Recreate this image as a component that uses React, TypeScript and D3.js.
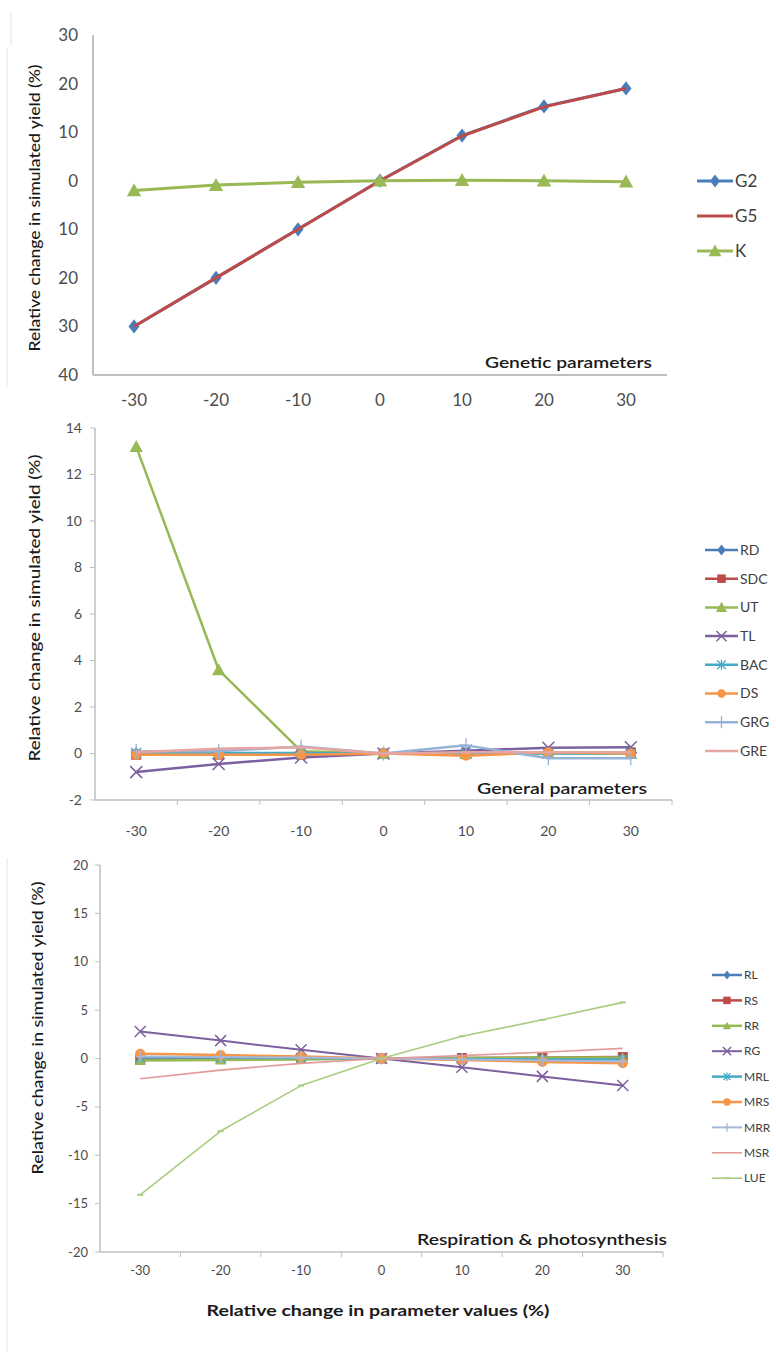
import React from "react";
import * as d3 from "d3";

// ---------- data ----------
const categories = ["-30", "-20", "-10", "0", "10", "20", "30"];

// Genetic parameters
const g2 = [-30, -20, -10, 0, 9.3, 15.3, 19.0];
const g5 = [-30, -20, -10, 0, 9.2, 15.2, 19.0];
const kVals = [-2.0, -0.9, -0.3, 0, 0.1, 0.0, -0.2];
const topTicks = [-40, -30, -20, -10, 0, 10, 20, 30];
const topTickLabels = ["40", "30", "20", "10", "0", "10", "20", "30"];

// General parameters
const rd = [0.0, 0.0, 0.0, 0, 0.05, 0.05, 0.05];
const sdc = [-0.05, -0.05, -0.05, 0, 0.0, 0.05, 0.05];
const ut = [13.2, 3.6, 0.1, 0, 0.0, 0.0, 0.0];
const tl = [-0.8, -0.45, -0.17, 0, 0.12, 0.25, 0.27];
const bac = [0.02, 0.02, 0.02, 0, 0.0, 0.0, 0.0];
const ds = [-0.05, -0.05, -0.05, 0, -0.1, 0.05, 0.0];
const grg = [0.1, 0.1, 0.3, 0, 0.35, -0.2, -0.2];
const gre = [0.05, 0.2, 0.27, 0, 0.05, 0.05, 0.05];
const midTicks = [-2, 0, 2, 4, 6, 8, 10, 12, 14];
const midTickLabels = ["-2", "0", "2", "4", "6", "8", "10", "12", "14"];

// Respiration & photosynthesis
const rl = [0.0, 0.0, 0.0, 0, 0.0, 0.0, 0.05];
const rs = [-0.1, -0.05, 0.0, 0, 0.05, 0.1, 0.15];
const rr = [-0.2, -0.15, -0.1, 0, 0.05, 0.1, 0.1];
const rg = [2.8, 1.85, 0.9, 0, -0.9, -1.85, -2.8];
const mrl = [0.1, 0.1, 0.05, 0, -0.05, -0.1, -0.1];
const mrs = [0.5, 0.35, 0.2, 0, -0.15, -0.35, -0.5];
const mrr = [0.2, 0.15, 0.1, 0, -0.1, -0.2, -0.3];
const msr = [-2.1, -1.2, -0.5, 0, 0.3, 0.65, 1.05];
const lue = [-14.1, -7.5, -2.8, 0, 2.3, 4.0, 5.8];
const botTicks = [-20, -15, -10, -5, 0, 5, 10, 15, 20];
const botTickLabels = ["-20", "-15", "-10", "-5", "0", "5", "10", "15", "20"];

// ---------- types ----------
type Marker = "diamond" | "square" | "triangle" | "x" | "star" | "circle" | "plus" | "dash" | "none";
interface Series {
  name: string;
  values: number[];
  color: string;
  marker: Marker;
  width: number;
  msize: number;
}

const FONT = "Lato, 'Open Sans', sans-serif";

function MarkerShape({ type, size, color, x, y }: { type: Marker; size: number; color: string; x: number; y: number }) {
  const s = size;
  const t = `translate(${x},${y})`;
  switch (type) {
    case "diamond":
      return <path transform={t} d={`M0,${-s * 1.3}L${s},0L0,${s * 1.3}L${-s},0Z`} fill={color} />;
    case "square":
      return <rect transform={t} x={-s} y={-s} width={2 * s} height={2 * s} fill={color} />;
    case "triangle":
      return <path transform={t} d={`M0,${-s * 1.1}L${s * 1.1},${s * 0.9}L${-s * 1.1},${s * 0.9}Z`} fill={color} />;
    case "circle":
      return <circle transform={t} r={s} fill={color} />;
    case "x":
      return (
        <g transform={t} stroke={color} strokeWidth={1.5}>
          <line x1={-s} y1={-s} x2={s} y2={s} />
          <line x1={-s} y1={s} x2={s} y2={-s} />
        </g>
      );
    case "star":
      return (
        <g transform={t} stroke={color} strokeWidth={1.3}>
          <line x1={-s} y1={-s} x2={s} y2={s} />
          <line x1={-s} y1={s} x2={s} y2={-s} />
          <line x1={0} y1={-s * 1.2} x2={0} y2={s * 1.2} />
        </g>
      );
    case "plus":
      return (
        <g transform={t} stroke={color} strokeWidth={1.3}>
          <line x1={-s} y1={0} x2={s} y2={0} />
          <line x1={0} y1={-s * 1.3} x2={0} y2={s * 1.3} />
        </g>
      );
    case "dash":
      return <line transform={t} x1={-s} y1={0} x2={s} y2={0} stroke={color} strokeWidth={2} />;
    default:
      return null;
  }
}

interface ChartProps {
  series: Series[];
  x0: number;
  x1: number;
  yTop: number;
  yBottom: number;
  domain: [number, number];
  ticks: number[];
  tickLabels: string[];
  tickFont: number;
  yLabelX: number;
  xLabelY: number;
  showTicks: boolean;
  axisWidth: number;
  yTitle: { x: number; y: number; len: number; size: number };
  legend: { x0: number; x1: number; y0: number; step: number; font: number; mscale: number };
  title: { text: string; xEnd: number; y: number; len: number; size: number };
}

function Chart(p: ChartProps) {
  const x = d3.scaleBand<string>().domain(categories).range([p.x0, p.x1]);
  const y = d3.scaleLinear().domain(p.domain).range([p.yBottom, p.yTop]);
  const cx = (c: string) => (x(c) as number) + x.bandwidth() / 2;
  const line = d3
    .line<number>()
    .x((_, i) => cx(categories[i]))
    .y((v) => y(v));
  const axisColor = "#bfbfbf";
  return (
    <g>
      {/* axes */}
      <line x1={p.x0} y1={p.yTop} x2={p.x0} y2={p.yBottom} stroke={axisColor} strokeWidth={p.axisWidth} />
      <line x1={p.x0} y1={p.yBottom} x2={p.x1} y2={p.yBottom} stroke={axisColor} strokeWidth={p.axisWidth} />
      {p.showTicks &&
        p.ticks.map((t) => (
          <line key={"yt" + t} x1={p.x0 - 5} x2={p.x0} y1={y(t)} y2={y(t)} stroke={axisColor} strokeWidth={1} />
        ))}
      {p.showTicks &&
        categories.map((c) => (
          <line
            key={"xt" + c}
            x1={(x(c) as number) + x.bandwidth()}
            x2={(x(c) as number) + x.bandwidth()}
            y1={p.yBottom}
            y2={p.yBottom + 5}
            stroke={axisColor}
            strokeWidth={1}
          />
        ))}
      {p.ticks.map((t, i) => (
        <text
          key={"yl" + t}
          x={p.yLabelX}
          y={y(t)}
          dy="0.35em"
          textAnchor="end"
          fontSize={p.tickFont}
          fill="#4d4d4d"
          fontFamily={FONT}
        >
          {p.tickLabels[i]}
        </text>
      ))}
      {categories.map((c) => (
        <text
          key={"xl" + c}
          x={cx(c)}
          y={p.xLabelY}
          dy="0.35em"
          textAnchor="middle"
          fontSize={p.tickFont}
          fill="#4d4d4d"
          fontFamily={FONT}
        >
          {c}
        </text>
      ))}
      {/* y title */}
      <text
        transform={`translate(${p.yTitle.x},${p.yTitle.y}) rotate(-90)`}
        textAnchor="middle"
        dy="0.35em"
        fontSize={p.yTitle.size}
        fontWeight={500}
        fill="#1a1a1a"
        fontFamily={FONT}
        textLength={p.yTitle.len}
        lengthAdjust="spacingAndGlyphs"
      >
        Relative change in simulated yield (%)
      </text>
      {/* panel title */}
      <text
        x={p.title.xEnd - p.title.len}
        y={p.title.y}
        fontSize={p.title.size}
        fontWeight={600}
        fill="#1a1a1a"
        fontFamily={FONT}
        textLength={p.title.len}
        lengthAdjust="spacingAndGlyphs"
      >
        {p.title.text}
      </text>
      {/* series */}
      {p.series.map((s) => (
        <g key={s.name}>
          <path d={line(s.values) || ""} fill="none" stroke={s.color} strokeWidth={s.width} strokeLinejoin="round" />
          {s.values.map((v, i) => (
            <MarkerShape key={i} type={s.marker} size={s.msize} color={s.color} x={cx(categories[i])} y={y(v)} />
          ))}
        </g>
      ))}
      {/* legend */}
      {p.series.map((s, i) => {
        const ly = p.legend.y0 + i * p.legend.step;
        return (
          <g key={"lg" + s.name}>
            <line x1={p.legend.x0} x2={p.legend.x1} y1={ly} y2={ly} stroke={s.color} strokeWidth={s.width} />
            <MarkerShape
              type={s.marker}
              size={s.msize * p.legend.mscale}
              color={s.color}
              x={(p.legend.x0 + p.legend.x1) / 2}
              y={ly}
            />
            <text
              x={p.legend.x1 + 2}
              y={ly}
              dy="0.35em"
              fontSize={p.legend.font}
              fill="#404040"
              fontFamily={FONT}
            >
              {s.name}
            </text>
          </g>
        );
      })}
    </g>
  );
}

const topSeries: Series[] = [
  { name: "G2", values: g2, color: "#4a7ebb", marker: "diamond", width: 3, msize: 5.5 },
  { name: "G5", values: g5, color: "#be4b48", marker: "none", width: 3, msize: 0 },
  { name: "K", values: kVals, color: "#98b954", marker: "triangle", width: 3, msize: 6.5 },
];

const midSeries: Series[] = [
  { name: "RD", values: rd, color: "#4a7ebb", marker: "diamond", width: 2.5, msize: 5 },
  { name: "SDC", values: sdc, color: "#be4b48", marker: "square", width: 2.5, msize: 5 },
  { name: "UT", values: ut, color: "#98b954", marker: "triangle", width: 2.5, msize: 6 },
  { name: "TL", values: tl, color: "#7d60a0", marker: "x", width: 2.5, msize: 6 },
  { name: "BAC", values: bac, color: "#46aac5", marker: "star", width: 2.5, msize: 5 },
  { name: "DS", values: ds, color: "#f79646", marker: "circle", width: 2.5, msize: 5 },
  { name: "GRG", values: grg, color: "#95b3d7", marker: "plus", width: 2.5, msize: 5.5 },
  { name: "GRE", values: gre, color: "#e6a5a3", marker: "none", width: 2.5, msize: 0 },
];

const botSeries: Series[] = [
  { name: "RL", values: rl, color: "#4a7ebb", marker: "diamond", width: 2.5, msize: 4.5 },
  { name: "RS", values: rs, color: "#be4b48", marker: "square", width: 2.5, msize: 5 },
  { name: "RR", values: rr, color: "#98b954", marker: "triangle", width: 2.5, msize: 5 },
  { name: "RG", values: rg, color: "#7d60a0", marker: "x", width: 2, msize: 5.5 },
  { name: "MRL", values: mrl, color: "#46aac5", marker: "star", width: 2.5, msize: 4.5 },
  { name: "MRS", values: mrs, color: "#f79646", marker: "circle", width: 2.5, msize: 5 },
  { name: "MRR", values: mrr, color: "#a5b8d9", marker: "plus", width: 2, msize: 4.5 },
  { name: "MSR", values: msr, color: "#e39a98", marker: "none", width: 1.6, msize: 0 },
  { name: "LUE", values: lue, color: "#a9cd7e", marker: "dash", width: 1.6, msize: 3 },
];

export default function App() {
  return (
    <svg width={776} height={1352} style={{ position: "absolute", left: 0, top: 0, background: "#fff" }}>
      <rect width={776} height={1352} fill="#fff" />
      {/* faint frame remnants */}
      <line x1={11} x2={11} y1={12} y2={45} stroke="#e4e4e4" strokeWidth={1} />
      <line x1={7} x2={7} y1={48} y2={387} stroke="#e4e4e4" strokeWidth={1} />
      <line x1={7} x2={7} y1={858} y2={1352} stroke="#e8e8e8" strokeWidth={1} />
      <Chart
        series={topSeries}
        x0={93}
        x1={667}
        yTop={35}
        yBottom={375}
        domain={[-40, 30]}
        ticks={topTicks}
        tickLabels={topTickLabels}
        tickFont={17}
        yLabelX={78}
        xLabelY={400}
        showTicks={false}
        axisWidth={2}
        yTitle={{ x: 35, y: 208, len: 287, size: 15 }}
        legend={{ x0: 697, x1: 733, y0: 181, step: 35, font: 17, mscale: 0.9 }}
        title={{ text: "Genetic parameters", xEnd: 652, y: 368, len: 167, size: 16 }}
      />
      <Chart
        series={midSeries}
        x0={95}
        x1={672}
        yTop={428}
        yBottom={800}
        domain={[-2, 14]}
        ticks={midTicks}
        tickLabels={midTickLabels}
        tickFont={14}
        yLabelX={82}
        xLabelY={831}
        showTicks={true}
        axisWidth={1.5}
        yTitle={{ x: 35, y: 608, len: 307, size: 15 }}
        legend={{ x0: 705, x1: 738, y0: 550, step: 28.7, font: 14, mscale: 0.85 }}
        title={{ text: "General parameters", xEnd: 647, y: 794, len: 170, size: 16 }}
      />
      <Chart
        series={botSeries}
        x0={100}
        x1={663}
        yTop={865}
        yBottom={1252}
        domain={[-20, 20]}
        ticks={botTicks}
        tickLabels={botTickLabels}
        tickFont={13}
        yLabelX={88}
        xLabelY={1270}
        showTicks={true}
        axisWidth={1.5}
        yTitle={{ x: 38, y: 1028, len: 293, size: 15 }}
        legend={{ x0: 712, x1: 742, y0: 975, step: 25.4, font: 12, mscale: 0.75 }}
        title={{ text: "Respiration & photosynthesis", xEnd: 667, y: 1245, len: 250, size: 16 }}
      />
      <text
        x={378}
        y={1310}
        dy="0.35em"
        textAnchor="middle"
        fontSize={16}
        fontWeight={700}
        fill="#1a1a1a"
        fontFamily={FONT}
        textLength={343}
        lengthAdjust="spacingAndGlyphs"
      >
        Relative change in parameter values (%)
      </text>
    </svg>
  );
}
